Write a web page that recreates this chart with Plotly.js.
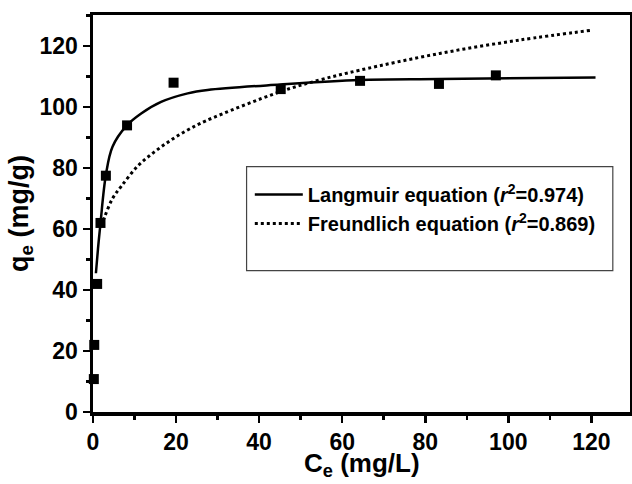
<!DOCTYPE html>
<html>
<head>
<meta charset="utf-8">
<script src="https://cdn.plot.ly/plotly-3.0.1.min.js"></script>
<style>
html,body{margin:0;padding:0;background:#fff;}
#chart{width:632px;height:484px;}
</style>
</head>
<body>
<div id="chart"></div>
<script>
// Experimental data
const ceData = [0.2, 0.3, 1.0, 1.8, 3.1, 8.2, 19.4, 45.2, 64.3, 83.3, 97.0];
const qeData = [10.8, 22.0, 42.0, 62.0, 77.5, 94.0, 108.0, 105.9, 108.6, 107.6, 110.4];

// Langmuir fit curve
const langX = [0.7, 1.2, 1.8, 3.1, 4.7, 8.1, 11.6, 16.4, 22.8, 27.6, 45.0, 64.2, 83.5, 121.0];
const langY = [45.5, 53.5, 61.9, 77.7, 87.0, 93.9, 97.9, 101.7, 104.5, 105.6, 107.4, 108.9, 109.2, 109.7];

// Freundlich fit curve
const freX = [2.0, 2.8, 4.7, 6.8, 10.8, 14.8, 18.8, 22.8, 27.2, 45.0, 54.6, 64.2, 83.5, 102.8, 120.0];
const freY = [61.0, 64.0, 70.0, 74.0, 80.7, 85.3, 89.2, 92.5, 95.5, 105.0, 108.9, 112.1, 117.6, 122.0, 125.2];

const legendNames = [
  'Langmuir equation (<i>r</i><sup>2</sup>=0.974)',
  'Freundlich equation (<i>r</i><sup>2</sup>=0.869)'
];
const xTitle = 'C<sub>e</sub> (mg/L)';
const yTitle = 'q<sub>e</sub> (mg/g)';

const FONT = 'Liberation Sans, Arial, sans-serif';

const traces = [
  {
    x: langX, y: langY, mode: 'lines', name: legendNames[0],
    line: {color: '#000', width: 2.5, shape: 'spline', smoothing: 1},
    legendgroup: 'a', cliponaxis: false
  },
  {
    x: freX, y: freY, mode: 'lines', name: legendNames[1],
    line: {color: '#000', width: 3, dash: 'dot', shape: 'spline', smoothing: 1},
    legendgroup: 'b', cliponaxis: false
  },
  {
    x: ceData, y: qeData, mode: 'markers', showlegend: false,
    marker: {symbol: 'square', size: 10, color: '#000'},
    cliponaxis: false
  }
];

const axisCommon = {
  showgrid: false, zeroline: false,
  showline: true, linecolor: '#000', linewidth: 3.5, mirror: true,
  ticks: 'outside', ticklen: 7, tickwidth: 2.5, tickcolor: '#000',
  tickfont: {family: FONT, size: 23, color: '#000', weight: 'bold'},
  minor: {dtick: 10, ticks: 'outside', ticklen: 4, tickwidth: 2.5, tickcolor: '#000'}
};

const layout = {
  width: 632, height: 484,
  margin: {l: 93, r: 2, t: 15, b: 72},
  paper_bgcolor: '#fff', plot_bgcolor: '#fff',
  font: {family: FONT, color: '#000'},
  xaxis: Object.assign({}, axisCommon, {
    range: [0, 129.3], dtick: 20, tick0: 0
  }),
  yaxis: Object.assign({}, axisCommon, {
    range: [0, 130.2], dtick: 20, tick0: 0,
    title: {text: yTitle, font: {family: FONT, size: 27, weight: 'bold', color: '#000'}, standoff: 4}
  }),
  annotations: [{
    text: xTitle, xref: 'paper', yref: 'paper', x: 0.5, y: -0.1788,
    xanchor: 'center', yanchor: 'bottom', showarrow: false,
    font: {family: FONT, size: 26, weight: 'bold', color: '#000'}
  }],
  showlegend: true,
  legend: {
    x: 0.292, y: 0.597, xanchor: 'left', yanchor: 'top',
    bgcolor: 'rgba(0,0,0,0)', borderwidth: 0,
    font: {family: FONT, size: 20, weight: 'bold', color: '#000'},
    tracegroupgap: 0, itemwidth: 48
  },
  shapes: [{
    type: 'rect', xref: 'paper', yref: 'paper',
    x0: 0.286, x1: 0.968, y0: 0.356, y1: 0.618,
    line: {color: '#444', width: 1.2}, fillcolor: 'rgba(0,0,0,0)', layer: 'above'
  }]
};

Plotly.newPlot('chart', traces, layout, {displayModeBar: false, staticPlot: true});
</script>
</body>
</html>
